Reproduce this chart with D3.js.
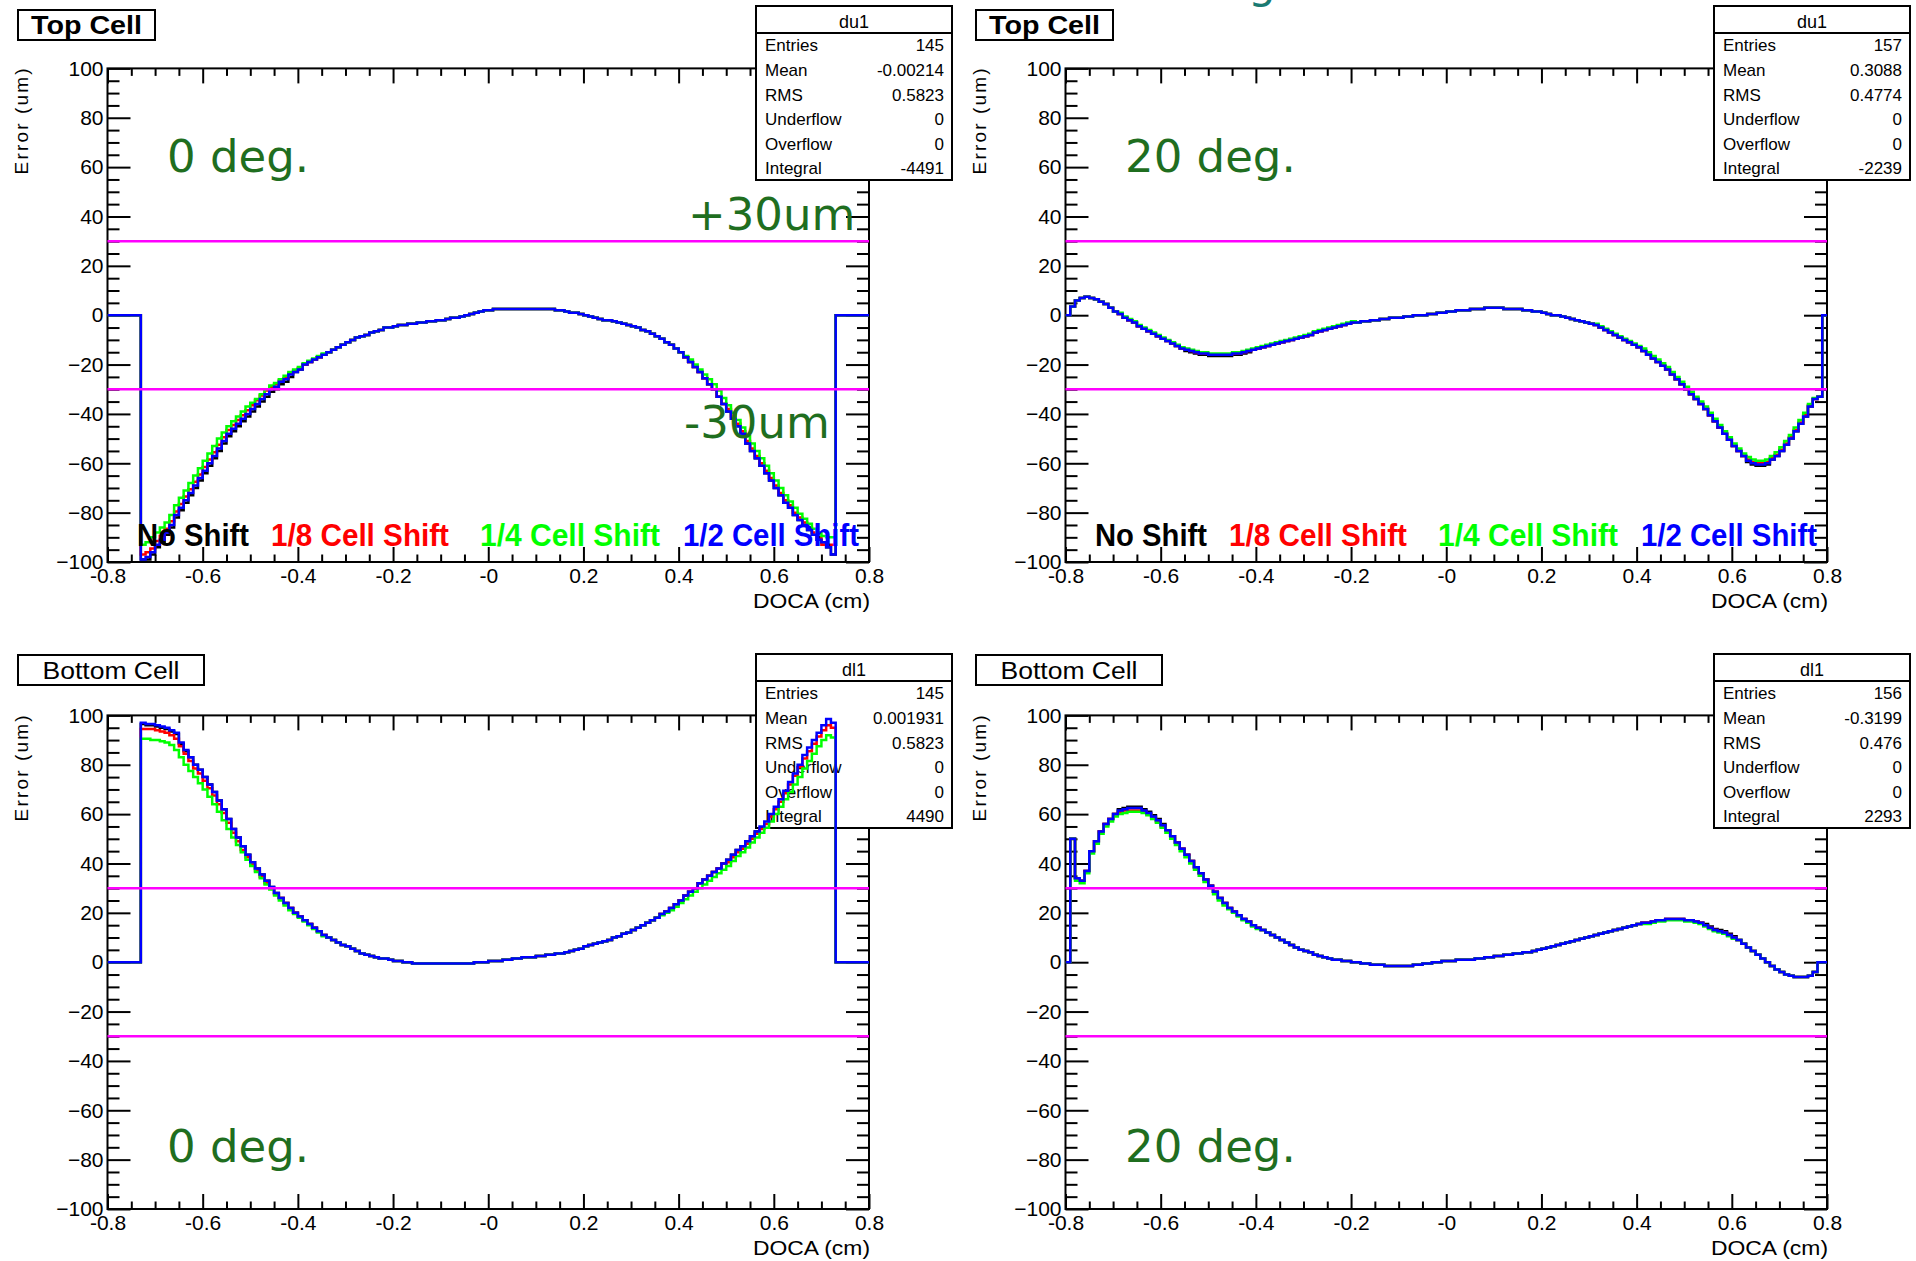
<!DOCTYPE html>
<html>
<head>
<meta charset="utf-8">
<script src="https://cdn.jsdelivr.net/npm/d3@7"></script>
<style>
  body { margin: 0; background: #fff; }
  svg { display: block; }
</style>
</head>
<body>
<svg id="chart" width="1916" height="1261"></svg>
<script>
// ---- data (bin width 0.01 cm, values in um) ----
const binWidth = 0.01;
const xTickValues = [-0.8, -0.6, -0.4, -0.2, 0, 0.2, 0.4, 0.6, 0.8];
const xTickLabels = ["-0.8", "-0.6", "-0.4", "-0.2", "-0", "0.2", "0.4", "0.6", "0.8"];
const yTickValues = [-100, -80, -60, -40, -20, 0, 20, 40, 60, 80, 100];
const limitLines = [30, -30];
const seriesNames = ["No Shift", "1/8 Cell Shift", "1/4 Cell Shift", "1/2 Cell Shift"];
const seriesColors = ["#000000", "#ff0000", "#00ff00", "#0000ff"];
const statsLabels = ["Entries", "Mean", "RMS", "Underflow", "Overflow", "Integral"];

// Top cell, 0 deg.
const tlStart = -0.73;
const tlNoShift = [
  -99,-99,-97,-94,-92,-89,-86,-82,-79,-76,
  -73,-70,-67,-64,-61,-58,-55,-52,-49,-47,
  -45,-43,-41,-39,-37,-35,-33,-31,-30,-28,
  -27,-25,-23,-22,-20,-19,-18,-17,-16,-15,
  -14,-13,-12,-11,-10,-9,-8.5,-8,-7,-6.5,
  -6,-5,-5,-4.5,-4,-4,-3.5,-3.5,-3,-3,
  -2.5,-2.5,-2,-2,-1.5,-1,-1,-0.5,0,0.5,
  1,1.5,2,2,2.5,2.5,2.5,2.5,2.5,2.5,
  2.5,2.5,2.5,2.5,2.5,2.5,2.5,2,2,1.5,
  1,1,0.5,0,-0.5,-1,-1.5,-2,-2,-2.5,
  -3,-3.5,-4,-4.5,-5,-6,-6.5,-7.5,-8.5,-9.5,
  -11,-12,-13.5,-15,-17,-19,-21,-23,-25.5,-28,
  -30,-33,-36,-39,-42,-45,-48,-52,-55,-58,
  -61,-64,-67,-70,-73,-76,-78,-81,-83,-85,
  -87,-89,-91,-92,-94,-97];
const tlShift8 = [
  -97,-96,-94.5,-91.5,-89.5,-86.5,-83.5,-79.5,-76.5,-73.5,
  -70.5,-67.5,-64.5,-61.5,-58.5,-55.5,-52.5,-49.5,-46.5,-44.5,
  -42.5,-40.5,-38.5,-36.5,-34.5,-32.5,-30.5,-29,-28,-26.5,
  -25.5,-23.5,-22.5,-21.5,-20,-19,-18,-17,-16,-15,
  -14,-13,-12,-11,-10,-9,-8.5,-8,-7,-6.5,
  -6,-5,-5,-4.5,-4,-4,-3.5,-3.5,-3,-3,
  -2.5,-2.5,-2,-2,-1.5,-1,-1,-0.5,0,0.5,
  1,1.5,2,2,2.5,2.5,2.5,2.5,2.5,2.5,
  2.5,2.5,2.5,2.5,2.5,2.5,2.5,2,2,1.5,
  1,1,0.5,0,-0.5,-1,-1.5,-2,-2,-2.5,
  -3,-3.5,-4,-4.5,-5,-6,-6.5,-7.5,-8.5,-9.5,
  -11,-12,-13.5,-15,-17,-19,-21,-23,-25.5,-28,
  -30,-33,-36,-38,-41,-44,-47,-51,-54,-57,
  -60,-63,-66,-69,-72,-75,-77,-80,-82,-84,
  -86,-88,-90,-93,-93,-93];
const tlShift4 = [
  -93,-92,-90,-88,-86,-84,-81,-77,-74,-71,
  -68,-65,-62,-59,-56,-53,-50,-47.5,-45,-43,
  -41,-39,-37,-35.5,-34,-32,-30,-28.5,-27.5,-26,
  -24.5,-23,-22,-21,-19.5,-18.5,-17.5,-16.5,-15.5,-15,
  -14,-13,-12,-11,-10,-9,-8.5,-8,-7,-6.5,
  -6,-5,-5,-4.5,-4,-4,-3.5,-3.5,-3,-3,
  -2.5,-2.5,-2,-2,-1.5,-1,-1,-0.5,0,0.5,
  1,1.5,2,2,2.5,2.5,2.5,2.5,2.5,2.5,
  2.5,2.5,2.5,2.5,2.5,2.5,2.5,2,2,1.5,
  1,1,0.5,0,-0.5,-1,-1.5,-2,-2,-2.5,
  -3,-3.5,-4,-4.5,-5,-6,-6.5,-7.5,-8.5,-9.5,
  -11,-12,-13.5,-15,-16.5,-18,-20,-22,-24,-26,
  -28,-30.5,-33.5,-36.5,-39.5,-42.5,-45.5,-49,-52,-55,
  -58,-61,-64,-67,-70,-73,-75.5,-78,-80.5,-82.5,
  -84.5,-86.5,-88,-89.5,-90,-90];
const tlShift2 = [
  -99,-98,-96,-93,-91,-88,-85,-81,-78,-75,
  -72,-69,-66,-63,-60,-57,-54,-51,-48,-46,
  -44,-42,-40,-38,-36,-34,-32,-30,-29,-27,
  -26,-24,-23,-22,-20,-19,-18,-17,-16,-15,
  -14,-13,-12,-11,-10,-9,-8.5,-8,-7,-6.5,
  -6,-5,-5,-4.5,-4,-4,-3.5,-3.5,-3,-3,
  -2.5,-2.5,-2,-2,-1.5,-1,-1,-0.5,0,0.5,
  1,1.5,2,2,2.5,2.5,2.5,2.5,2.5,2.5,
  2.5,2.5,2.5,2.5,2.5,2.5,2.5,2,2,1.5,
  1,1,0.5,0,-0.5,-1,-1.5,-2,-2,-2.5,
  -3,-3.5,-4,-4.5,-5,-6,-6.5,-7.5,-8.5,-9.5,
  -11,-12,-13.5,-15,-17,-19,-21,-23,-25.5,-28,
  -30,-33,-36,-39,-42,-45,-48,-52,-55,-58,
  -61,-64,-67,-70,-73,-76,-78,-81,-83,-85,
  -87,-89,-91,-92,-94,-97];
const tlStats = ["145", "-0.00214", "0.5823", "0", "0", "-4491"];

// Top cell, 20 deg.
const trStart = -0.79;
const trNoShift = [
  3.5,6,7,7.5,7,6.5,5.5,4.5,3,1.5,
  0.5,-1,-2,-3,-4.5,-5.5,-6.5,-7.5,-8.5,-9.5,
  -10.5,-11.5,-12.5,-13.5,-14.5,-15,-15.5,-16,-16,-16.5,
  -16.5,-16.5,-16.5,-16.5,-16,-16,-15.5,-15,-14,-13.5,
  -13,-12.5,-12,-11.5,-11,-10.5,-10,-9.5,-9,-8.5,
  -8,-7,-6.5,-6,-5.5,-5,-4.5,-4,-3.5,-3,
  -3,-2.5,-2.5,-2,-2,-1.5,-1.5,-1,-1,-1,
  -0.5,-0.5,0,0,0,0.5,0.5,1,1,1.5,
  1.5,2,2,2,2.5,2.5,2.5,3,3,3,
  3,2.5,2.5,2.5,2.5,2,2,1.5,1.5,1,
  0.5,0,0,-0.5,-1,-1.5,-2,-2.5,-3,-3.5,
  -4,-5,-6,-7,-8,-9,-10,-11,-12,-13,
  -14.5,-16,-17.5,-19,-20.5,-22,-24,-26,-28,-30,
  -32,-34,-36,-38,-40.5,-43,-45.5,-48,-50.5,-53,
  -55,-57,-59.5,-60.5,-61,-61,-60.5,-58.5,-57,-55,
  -52.5,-50,-47,-44,-41,-37,-34,-33];
const trShift8 = [
  3.5,6,7,7.5,7,6.5,5.5,4.5,3,1.5,
  0.5,-1,-2,-3,-4.5,-5.5,-6.5,-7.5,-8.5,-9.5,
  -10.5,-11.5,-12.5,-13.5,-14,-14.5,-15,-15.5,-15.5,-16,
  -16,-16,-16,-16,-15.5,-15.5,-15,-14.5,-14,-13.5,
  -13,-12.5,-12,-11.5,-11,-10.5,-10,-9.5,-9,-8.5,
  -8,-7,-6.5,-6,-5.5,-5,-4.5,-4,-3.5,-3,
  -3,-2.5,-2.5,-2,-2,-1.5,-1.5,-1,-1,-1,
  -0.5,-0.5,0,0,0,0.5,0.5,1,1,1.5,
  1.5,2,2,2,2.5,2.5,2.5,3,3,3,
  3,2.5,2.5,2.5,2.5,2,2,1.5,1.5,1,
  0.5,0,0,-0.5,-1,-1.5,-2,-2.5,-3,-3.5,
  -4,-5,-6,-7,-8,-9,-10,-11,-12,-13,
  -14.5,-16,-17.5,-19,-20.5,-22,-24,-26,-28,-30,
  -32,-34,-36,-38,-40.5,-43,-45.5,-48,-50.5,-53,
  -55,-57,-58.5,-59.5,-60,-60,-59.5,-58,-56.5,-54.5,
  -52,-49.5,-46.5,-43.5,-40.5,-36.5,-34,-33];
const trShift4 = [
  3.5,6,7,7.5,7,6.5,5.5,4.5,3,1.5,
  1,-0.5,-1.5,-2.5,-4,-5,-6,-7,-8,-9,
  -10,-11,-12,-13,-13.5,-14,-14.5,-15,-15,-15.5,
  -15.5,-15.5,-15.5,-15.5,-15,-15,-14.5,-14,-13.5,-13,
  -12.5,-12,-11.5,-11,-10.5,-10,-9.5,-9,-8.5,-8,
  -7.5,-6.5,-6,-5.5,-5,-4.5,-4,-3.5,-3,-2.5,
  -3,-2.5,-2.5,-2,-2,-1.5,-1.5,-1,-1,-1,
  -0.5,-0.5,0,0,0,0.5,0.5,1,1,1.5,
  1.5,2,2,2,2.5,2.5,2.5,3,3,3,
  3,2.5,2.5,2.5,2.5,2,2,1.5,1.5,1,
  0.5,0,0,-0.5,-1,-1.5,-2,-2.5,-3,-3.5,
  -3.5,-4.5,-5.5,-6.5,-7.5,-8.5,-9.5,-10.5,-11.5,-12.5,
  -13.5,-15,-16.5,-18,-19.5,-21,-23,-25,-27,-29,
  -31,-33,-35,-37,-39.5,-42,-44.5,-47,-49.5,-52,
  -54,-56,-57.5,-58.5,-59,-59,-58.5,-57,-55.5,-53.5,
  -51,-48.5,-45.5,-42.5,-39.5,-36,-33.5,-33];
const trShift2 = [
  3.5,6,7,7.5,7,6.5,5.5,4.5,3,1.5,
  0.5,-1,-2,-3,-4.5,-5.5,-6.5,-7.5,-8.5,-9.5,
  -10.5,-11.5,-12.5,-13.5,-14,-14.5,-15,-15.5,-15.5,-16,
  -16,-16,-16,-16,-15.5,-15.5,-15,-14.5,-14,-13.5,
  -13,-12.5,-12,-11.5,-11,-10.5,-10,-9.5,-9,-8.5,
  -8,-7,-6.5,-6,-5.5,-5,-4.5,-4,-3.5,-3,
  -3,-2.5,-2.5,-2,-2,-1.5,-1.5,-1,-1,-1,
  -0.5,-0.5,0,0,0,0.5,0.5,1,1,1.5,
  1.5,2,2,2,2.5,2.5,2.5,3,3,3,
  3,2.5,2.5,2.5,2.5,2,2,1.5,1.5,1,
  0.5,0,0,-0.5,-1,-1.5,-2,-2.5,-3,-3.5,
  -4,-5,-6,-7,-8,-9,-10,-11,-12,-13,
  -14.5,-16,-17.5,-19,-20.5,-22,-24,-26,-28,-30,
  -32,-34,-36,-38,-40.5,-43,-45.5,-48,-50.5,-53,
  -55,-57,-59,-60,-60.5,-60.5,-60,-58.5,-57,-55,
  -52.5,-50,-47,-44,-41,-37,-34,-33];
const trStats = ["157", "0.3088", "0.4774", "0", "0", "-2239"];

// Bottom cell, 0 deg.
const blStart = -0.73;
const blNoShift = [
  96.5,96,96,95.5,95,94.5,93.5,92.5,88.5,85.5,
  83,80,78,75,72,69,65.5,62,58,54,
  50.5,47,43.5,40.5,38,35.5,33,30.5,28,26,
  24,22,20,18.5,17,15.5,14,12.5,11,10,
  9,8,7,6.5,5.5,4.5,3.5,3,2.5,2,
  1.5,1.5,1,0.5,0.5,0,0,-0.5,-0.5,-0.5,
  -0.5,-0.5,-0.5,-0.5,-0.5,-0.5,-0.5,-0.5,-0.5,-0.5,
  0,0,0,0.5,0.5,0.5,1,1,1.5,1.5,
  2,2,2,2.5,2.5,3,3,3.5,3.5,4,
  4.5,5,5.5,6.5,7,7.5,8,8.5,9,10,
  10.5,11.5,12,13,14,15,16,17,18,19.5,
  20.5,22,23.5,25,27,28.5,30,32,33.5,35,
  36.5,38,40,41.5,43.5,45.5,47,49,51,53,
  55,57,60,63,66,69.5,73,76.5,80,84,
  87,90,93,95.5,98,96.5];
const blShift8 = [
  94.5,94.5,94.5,94,93.5,93,92,90.5,87.5,84.5,
  81.5,78.5,76.5,73.5,70.5,67.5,64,60.5,56.5,52.5,
  49,45.5,42.5,39.5,37,34.5,32,30,27.5,26,
  24,22,20,18.5,17,15.5,14,12.5,11,10,
  9,8,7,6.5,5.5,4.5,3.5,3,2.5,2,
  1.5,1.5,1,0.5,0.5,0,0,-0.5,-0.5,-0.5,
  -0.5,-0.5,-0.5,-0.5,-0.5,-0.5,-0.5,-0.5,-0.5,-0.5,
  0,0,0,0.5,0.5,0.5,1,1,1.5,1.5,
  2,2,2,2.5,2.5,3,3,3.5,3.5,4,
  4.5,5,5.5,6.5,7,7.5,8,8.5,9,10,
  10.5,11.5,12,13,14,15,16,17,18,19.5,
  20.5,22,23.5,25,27,28.5,30,32,33.5,35,
  36.5,38,40,40.5,42.5,44.5,46,48,50,52,
  54,56,59,62,65,68.5,72,75.5,79,82.5,
  85.5,88.5,91.5,94,96,95];
const blShift4 = [
  90.5,90.5,90,90,89.5,89,88,86,83,80,
  77.5,75,72.5,70,67,64,61,57.5,54,50.5,
  47.5,44.5,41.5,39,36.5,34,31.5,29.5,27,25,
  23,21,19.5,18,16.5,15,13.5,12,10.5,10,
  9,8,7,6.5,5.5,4.5,3.5,3,2.5,2,
  1.5,1.5,1,0.5,0.5,0,0,-0.5,-0.5,-0.5,
  -0.5,-0.5,-0.5,-0.5,-0.5,-0.5,-0.5,-0.5,-0.5,-0.5,
  0,0,0,0.5,0.5,0.5,1,1,1.5,1.5,
  2,2,2,2.5,2.5,3,3,3.5,3.5,4,
  4.5,5,5.5,6.5,7,7.5,8,8.5,9,10,
  10.5,11.5,12,13,14,15,16,17,18,19,
  20,21,22.5,24,25.5,27,28.5,30,31.5,33,
  34.5,36,37.5,39,41,43,44.5,46.5,48.5,50.5,
  52.5,54.5,57,60,63,66,69,72,75,78.5,
  81.5,84.5,87.5,90,92,91];
const blShift2 = [
  97,96.5,96.5,96,95.5,95,94,93,89,86,
  83,80,78,75,72,69,65.5,62,58,54,
  50.5,47,43.5,40.5,38,35.5,33,30.5,28,26,
  24,22,20,18.5,17,15.5,14,12.5,11,10,
  9,8,7,6.5,5.5,4.5,3.5,3,2.5,2,
  1.5,1.5,1,0.5,0.5,0,0,-0.5,-0.5,-0.5,
  -0.5,-0.5,-0.5,-0.5,-0.5,-0.5,-0.5,-0.5,-0.5,-0.5,
  0,0,0,0.5,0.5,0.5,1,1,1.5,1.5,
  2,2,2,2.5,2.5,3,3,3.5,3.5,4,
  4.5,5,5.5,6.5,7,7.5,8,8.5,9,10,
  10.5,11.5,12,13,14,15,16,17,18,19.5,
  20.5,22,23.5,25,27,28.5,30,32,33.5,35,
  36.5,38,40,41.5,43.5,45.5,47,49,51,53,
  55,57,60,63,66,69.5,73,76.5,80,84,
  87,90,93,96,98.5,97];
const blStats = ["145", "0.001931", "0.5823", "0", "0", "4490"];

// Bottom cell, 20 deg.
const brStart = -0.79;
const brNoShift = [
  50,34,33,37,45,49,53,56,58,60,
  62,62.5,63,63,63,62,61,59.5,58,56,
  53.5,51,48.5,46,43.5,41,38.5,36,33.5,31,
  28.5,26,24,22,20.5,19,17.5,16.5,15,14,
  13,12,11,10,9,8,7,6,5,4.5,
  4,3,2.5,2,1.5,1,1,0.5,0.5,0,
  0,-0.5,-0.5,-1,-1,-1,-1.5,-1.5,-1.5,-1.5,
  -1.5,-1.5,-1,-1,-0.5,-0.5,0,0,0.5,0.5,
  0.5,1,1,1,1,1.5,1.5,2,2,2.5,
  2.5,3,3,3.5,3.5,4,4,4.5,5,5.5,
  6,6.5,7,7.5,8,8.5,9,9.5,10,10.5,
  11,11.5,12,12.5,13,13.5,14,14.5,15,15.5,
  16,16,16.5,17,17,17.5,17.5,17.5,17.5,17,
  17,16.5,16,15.5,14.5,13.5,13,12.5,11.5,10.5,
  9,7.5,6,4.5,3,1.5,0,-1.5,-3,-4,
  -5,-5.5,-6,-6,-6,-5.5,-4];
const brShift8 = [
  50,34,33,37,45,49,53,56,58,60,
  61,61.5,61.5,61.5,61.5,61,60,58.5,57,55,
  53.5,51,48.5,46,43.5,41,38.5,36,33.5,31,
  28.5,26,24,22,20.5,19,17.5,16.5,15,14,
  13,12,11,10,9,8,7,6,5,4.5,
  4,3,2.5,2,1.5,1,1,0.5,0.5,0,
  0,-0.5,-0.5,-1,-1,-1,-1.5,-1.5,-1.5,-1.5,
  -1.5,-1.5,-1,-1,-0.5,-0.5,0,0,0.5,0.5,
  0.5,1,1,1,1,1.5,1.5,2,2,2.5,
  2.5,3,3,3.5,3.5,4,4,4.5,5,5.5,
  6,6.5,7,7.5,8,8.5,9,9.5,10,10.5,
  11,11.5,12,12.5,13,13.5,14,14.5,15,15.5,
  16,16,16.5,17,17,17.5,17.5,17.5,17.5,17,
  17,16.5,16,15,14,13,12.5,12,11,10,
  9,7.5,6,4.5,3,1.5,0,-1.5,-3,-4,
  -5,-5.5,-6,-6,-6,-5.5,-4];
const brShift4 = [
  50,33,32,36,44,48,52,55,57,59,
  60,60.5,61,61,61,60.5,59.5,58,56.5,54.5,
  52.5,50,47.5,45,42.5,40,37.5,35,32.5,30,
  27.5,25,23,21.5,20,18.5,17,16,14.5,13.5,
  13,12,11,10,9,8,7,6,5,4.5,
  4,3,2.5,2,1.5,1,1,0.5,0.5,0,
  0,-0.5,-0.5,-1,-1,-1,-1.5,-1.5,-1.5,-1.5,
  -1.5,-1.5,-1,-1,-0.5,-0.5,0,0,0.5,0.5,
  0.5,1,1,1,1,1.5,1.5,2,2,2.5,
  2.5,3,3,3.5,3.5,4,4,4.5,5,5.5,
  6,6.5,7,7.5,8,8.5,9,9.5,10,10.5,
  11,11.5,12,12.5,13,13.5,14,14.5,15,15.5,
  15.5,15.5,16,16.5,16.5,17,17,17,17,16.5,
  16.5,16,15.5,14.5,13.5,12.5,12,11.5,10.5,9.5,
  9,7.5,6,4.5,3,1.5,0,-1.5,-3,-4,
  -5,-5.5,-6,-6,-6,-5.5,-4];
const brShift2 = [
  50,34,33,37,45,49,53,56,58,60,
  61.5,62,62.5,62.5,62.5,61.5,60.5,59,57.5,55.5,
  53.5,51,48.5,46,43.5,41,38.5,36,33.5,31,
  28.5,26,24,22,20.5,19,17.5,16.5,15,14,
  13,12,11,10,9,8,7,6,5,4.5,
  4,3,2.5,2,1.5,1,1,0.5,0.5,0,
  0,-0.5,-0.5,-1,-1,-1,-1.5,-1.5,-1.5,-1.5,
  -1.5,-1.5,-1,-1,-0.5,-0.5,0,0,0.5,0.5,
  0.5,1,1,1,1,1.5,1.5,2,2,2.5,
  2.5,3,3,3.5,3.5,4,4,4.5,5,5.5,
  6,6.5,7,7.5,8,8.5,9,9.5,10,10.5,
  11,11.5,12,12.5,13,13.5,14,14.5,15,15.5,
  16,16,16.5,17,17,17.5,17.5,17.5,17.5,17,
  17,16.5,16,15,14,13,12.5,12,11,10,
  9,7.5,6,4.5,3,1.5,0,-1.5,-3,-4,
  -5,-5.5,-6,-6,-6,-5.5,-4];
const brStats = ["156", "-0.3199", "0.476", "0", "0", "2293"];

// ---- layout ----
const font = "'Liberation Sans', Arial, sans-serif";
const bigFont = "'DejaVu Sans', sans-serif";
const darkGreen = "#1f6e1f";
const frame = { left: 107.5, top: 68.4, width: 761.5, height: 493.6 };

const panels = [
  { id: "tl", dx: 0, dy: 0, title: "Top Cell", bold: true, statsTitle: "du1", stats: tlStats,
    start: tlStart, series: [tlNoShift, tlShift8, tlShift4, tlShift2], angle: "0 deg.", angleY: 172, limitText: true, legend: true },
  { id: "tr", dx: 958, dy: 0, title: "Top Cell", bold: true, statsTitle: "du1", stats: trStats,
    start: trStart, series: [trNoShift, trShift8, trShift4, trShift2], angle: "20 deg.", angleY: 172, limitText: false, legend: true },
  { id: "bl", dx: 0, dy: 647, title: "Bottom Cell", bold: false, statsTitle: "dl1", stats: blStats,
    start: blStart, series: [blNoShift, blShift8, blShift4, blShift2], angle: "0 deg.", angleY: 515, limitText: false, legend: false },
  { id: "br", dx: 958, dy: 647, title: "Bottom Cell", bold: false, statsTitle: "dl1", stats: brStats,
    start: brStart, series: [brNoShift, brShift8, brShift4, brShift2], angle: "20 deg.", angleY: 515, limitText: false, legend: false }
];

const legendPos = [[137, 112], [271, 178], [480, 180], [683, 176]];

const svg = d3.select("#chart");
svg.append("rect").attr("width", 1916).attr("height", 1261).attr("fill", "#fff");

// cut-off letter from the slide title above
svg.append("text")
  .attr("x", 1262).attr("y", -2)
  .attr("text-anchor", "middle")
  .attr("font-family", bigFont).attr("font-size", 44)
  .attr("fill", "#1b7a72")
  .text("g");

function styleAxis(sel) {
  sel.select(".domain").remove();
  sel.selectAll(".tick line").attr("stroke", "#000").attr("stroke-width", 2);
  sel.selectAll(".tick text").attr("fill", "#000").attr("font-family", font).attr("font-size", 21);
}

function histPoints(start, vals) {
  const pts = [[-0.8, 0], [start, 0]];
  vals.forEach((v, k) => {
    pts.push([start + k * binWidth, v]);
    pts.push([start + (k + 1) * binWidth, v]);
  });
  const end = start + vals.length * binWidth;
  pts.push([end, 0]);
  pts.push([0.8, 0]);
  return pts;
}

panels.forEach((p) => {
  const g = svg.append("g").attr("transform", `translate(${p.dx},${p.dy})`);
  const x = d3.scaleLinear().domain([-0.8, 0.8]).range([frame.left, frame.left + frame.width]);
  const y = d3.scaleLinear().domain([-100, 100]).range([frame.top + frame.height, frame.top]);

  const xMinor = d3.range(-0.8, 0.8001, 0.05).filter((v) => Math.abs(Math.round(v * 5) - v * 5) > 1e-6);
  const yMinor = d3.range(-100, 101, 5).filter((v) => v % 20 !== 0);

  // axes with inward ticks
  g.append("g").attr("transform", `translate(0,${y(-100)})`)
    .call(d3.axisBottom(x).tickValues(xMinor).tickSize(-7.5).tickFormat("")).call(styleAxis);
  g.append("g").attr("transform", `translate(0,${y(-100)})`)
    .call(d3.axisBottom(x).tickValues(xTickValues).tickSize(-15).tickPadding(6)
      .tickFormat((d, i) => xTickLabels[i])).call(styleAxis);
  g.append("g").attr("transform", `translate(0,${y(100)})`)
    .call(d3.axisTop(x).tickValues(xMinor).tickSize(-7.5).tickFormat("")).call(styleAxis);
  g.append("g").attr("transform", `translate(0,${y(100)})`)
    .call(d3.axisTop(x).tickValues(xTickValues).tickSize(-15).tickFormat("")).call(styleAxis);
  g.append("g").attr("transform", `translate(${x(-0.8)},0)`)
    .call(d3.axisLeft(y).tickValues(yMinor).tickSize(-12).tickFormat("")).call(styleAxis);
  g.append("g").attr("transform", `translate(${x(-0.8)},0)`)
    .call(d3.axisLeft(y).tickValues(yTickValues).tickSize(-23).tickPadding(4)).call(styleAxis);
  g.append("g").attr("transform", `translate(${x(0.8)},0)`)
    .call(d3.axisRight(y).tickValues(yMinor).tickSize(-12).tickFormat("")).call(styleAxis);
  g.append("g").attr("transform", `translate(${x(0.8)},0)`)
    .call(d3.axisRight(y).tickValues(yTickValues).tickSize(-23).tickFormat("")).call(styleAxis);

  g.append("rect")
    .attr("x", frame.left).attr("y", frame.top)
    .attr("width", frame.width).attr("height", frame.height)
    .attr("fill", "none").attr("stroke", "#000").attr("stroke-width", 2);

  // axis titles
  g.append("text")
    .attr("x", x(0.8) + 1).attr("y", y(-100) + 46)
    .attr("text-anchor", "end")
    .attr("font-family", font).attr("font-size", 21)
    .attr("textLength", 117).attr("lengthAdjust", "spacingAndGlyphs")
    .text("DOCA (cm)");
  g.append("text")
    .attr("transform", `translate(28,${y(100)}) rotate(-90)`)
    .attr("text-anchor", "end")
    .attr("font-family", font).attr("font-size", 19)
    .attr("textLength", 106).attr("lengthAdjust", "spacing")
    .text("Error (um)");

  const clipId = "clip-" + p.id;
  g.append("clipPath").attr("id", clipId)
    .append("rect")
    .attr("x", frame.left).attr("y", frame.top - 2)
    .attr("width", frame.width).attr("height", frame.height + 4);

  const line = d3.line().x((d) => x(d[0])).y((d) => y(d[1]));
  const drawHist = (k) => {
    g.append("path")
      .attr("clip-path", `url(#${clipId})`)
      .attr("d", line(histPoints(p.start, p.series[k])))
      .attr("fill", "none")
      .attr("stroke", seriesColors[k])
      .attr("stroke-width", 2.5)
      .attr("stroke-linejoin", "miter");
  };

  // first histogram, then its stats box, then the "same" histograms on top
  drawHist(0);

  const sx = 756, sy = p.dy === 0 ? 6 : 7, sw = 196, sh = 174;
  const stats = g.append("g");
  stats.append("rect").attr("x", sx).attr("y", sy).attr("width", sw).attr("height", sh)
    .attr("fill", "#fff").attr("stroke", "#000").attr("stroke-width", 2);
  stats.append("line").attr("x1", sx).attr("x2", sx + sw).attr("y1", sy + 27).attr("y2", sy + 27)
    .attr("stroke", "#000").attr("stroke-width", 2);
  stats.append("text").attr("x", sx + sw / 2).attr("y", sy + 22)
    .attr("text-anchor", "middle").attr("font-family", font).attr("font-size", 18)
    .text(p.statsTitle);
  const rowY = [39, 64, 89, 113, 138, 162];
  statsLabels.forEach((lab, i) => {
    stats.append("text").attr("x", sx + 9).attr("y", sy + rowY[i] + 6)
      .attr("font-family", font).attr("font-size", 17).text(lab);
    stats.append("text").attr("x", sx + sw - 8).attr("y", sy + rowY[i] + 6)
      .attr("text-anchor", "end").attr("font-family", font).attr("font-size", 17).text(p.stats[i]);
  });

  drawHist(1);
  drawHist(2);
  drawHist(3);

  // +/-30 um limits
  limitLines.forEach((v) => {
    g.append("line")
      .attr("x1", x(-0.8)).attr("x2", x(0.8))
      .attr("y1", y(v)).attr("y2", y(v))
      .attr("stroke", "#ff00ff").attr("stroke-width", 2.5);
  });

  // pad title box
  const tw = p.bold ? 137 : 186;
  g.append("rect").attr("x", 18).attr("y", p.dy === 0 ? 10 : 8)
    .attr("width", tw).attr("height", 30)
    .attr("fill", "#fff").attr("stroke", "#000").attr("stroke-width", 2);
  g.append("text")
    .attr("x", 18 + tw / 2).attr("y", (p.dy === 0 ? 10 : 8) + 24)
    .attr("text-anchor", "middle")
    .attr("font-family", font).attr("font-size", p.bold ? 26 : 23)
    .attr("font-weight", p.bold ? "bold" : "normal")
    .attr("textLength", p.bold ? 111 : 137).attr("lengthAdjust", "spacingAndGlyphs")
    .text(p.title);

  // angle label
  g.append("text")
    .attr("x", p.angle === "0 deg." ? 167 : 1125 - 958).attr("y", p.angleY)
    .attr("font-family", bigFont).attr("font-size", 45)
    .attr("fill", darkGreen)
    .text(p.angle);

  if (p.limitText) {
    g.append("text").attr("x", 688).attr("y", 230)
      .attr("font-family", bigFont).attr("font-size", 45).attr("fill", darkGreen)
      .text("+30um");
    g.append("text").attr("x", 684).attr("y", 438)
      .attr("font-family", bigFont).attr("font-size", 45).attr("fill", darkGreen)
      .text("-30um");
  }

  if (p.legend) {
    seriesNames.forEach((name, k) => {
      g.append("text")
        .attr("x", legendPos[k][0]).attr("y", 546)
        .attr("font-family", font).attr("font-size", 31).attr("font-weight", "bold")
        .attr("textLength", legendPos[k][1]).attr("lengthAdjust", "spacingAndGlyphs")
        .attr("fill", seriesColors[k])
        .text(name);
    });
  }
});
</script>
</body>
</html>
